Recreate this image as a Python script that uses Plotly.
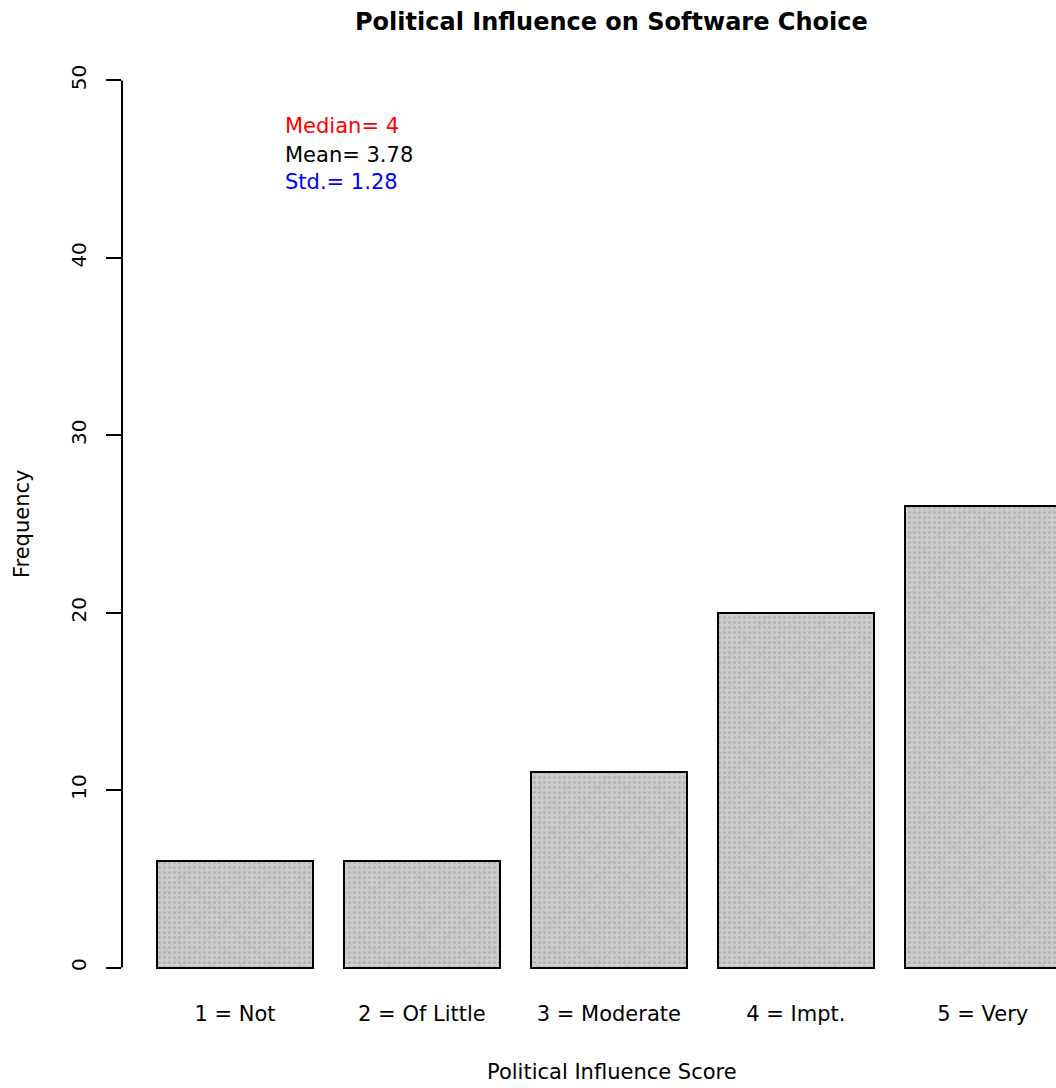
import plotly.graph_objects as go

# Survey responses: how strongly politics influences software choice
categories = ["1 = Not", "2 = Of Little", "3 = Moderate", "4 = Impt.", "5 = Very"]
frequencies = [6, 6, 11, 20, 26]
y_ticks = [0, 10, 20, 30, 40, 50]
stats_labels = ["Median= 4", "Mean= 3.78", "Std.= 1.28"]
stats_colors = ["#ff0000", "#000000", "#0000ff"]

# Bar layout in the style of R's barplot: width 1, space 0.2
bar_width = 1.0
space = 0.2
centers = [space + bar_width / 2 + i * (bar_width + space) for i in range(len(categories))]

FONT = "DejaVu Sans"

fig = go.Figure()

# Base fill with fine dot grid
fig.add_trace(go.Bar(
    x=centers, y=frequencies, width=bar_width,
    marker=dict(
        color="#c6c6c6",
        line=dict(color="#000000", width=2),
        pattern=dict(shape=".", fgcolor="#999999", bgcolor="#cdcdcd",
                     size=5, solidity=0.3),
    ),
    hoverinfo="skip", showlegend=False,
))
# Overlay of faint crosses
fig.add_trace(go.Bar(
    x=centers, y=frequencies, width=bar_width,
    marker=dict(
        color="rgba(0,0,0,0)",
        line=dict(color="#000000", width=2),
        pattern=dict(shape="x", fgcolor="#a0a0a0", bgcolor="rgba(0,0,0,0)",
                     size=21, solidity=0.06),
    ),
    hoverinfo="skip", showlegend=False,
))

x_lo, x_hi = -0.025, 5.97

# Left axis line spanning only the tick range
fig.add_shape(type="line", xref="paper", yref="y", x0=0, x1=0,
              y0=y_ticks[0], y1=y_ticks[-1],
              line=dict(color="#000000", width=2))

# Summary statistics in the upper left
stat_y = [47.45, 45.8, 44.3]
for label, color, yy in zip(stats_labels, stats_colors, stat_y):
    fig.add_annotation(x=1.01, y=yy, xref="x", yref="y", text=label,
                       showarrow=False, xanchor="left", yanchor="middle",
                       font=dict(family=FONT, size=21, color=color))

# Main title and axis titles
fig.add_annotation(x=0.5246, y=1.024, xref="paper", yref="paper",
                   text="<b>Political Influence on Software Choice</b>",
                   showarrow=False, yanchor="middle",
                   font=dict(family=FONT, size=24, color="#000000"))
fig.add_annotation(x=0.5246, y=-0.072, xref="paper", yref="paper",
                   text="Political Influence Score",
                   showarrow=False, yanchor="middle",
                   font=dict(family=FONT, size=21, color="#000000"))
fig.add_annotation(x=-0.107, y=0.5, xref="paper", yref="paper", text="Frequency",
                   textangle=-90, showarrow=False, xanchor="center",
                   font=dict(family=FONT, size=21, color="#000000"))

fig.update_layout(
    width=1056, height=1088,
    margin=dict(l=122, r=0, t=45, b=85),
    paper_bgcolor="#ffffff", plot_bgcolor="#ffffff",
    barmode="overlay", bargap=0,
    xaxis=dict(range=[x_lo, x_hi], tickvals=centers, ticktext=categories,
               showgrid=False, zeroline=False, showline=False, ticks="",
               ticklabelstandoff=-4,
               tickfont=dict(family=FONT, size=21, color="#000000")),
    yaxis=dict(range=[-2, 52], tickvals=y_ticks, ticks="outside", ticklen=15,
               tickwidth=2, tickcolor="#000000", tickangle=-90,
               ticklabelstandoff=12,
               showgrid=False, zeroline=False, showline=False,
               tickfont=dict(family=FONT, size=20, color="#000000")),
)

fig.write_html("out.html")
